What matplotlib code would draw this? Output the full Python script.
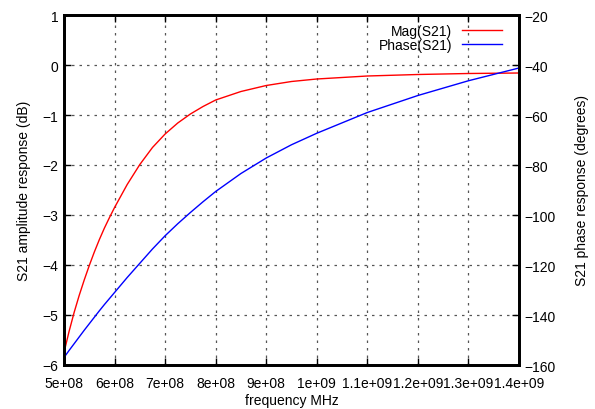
#!/usr/bin/env python3
"""S21 magnitude / phase response plot (gnuplot look)."""

import matplotlib
matplotlib.use('Agg')
import matplotlib.pyplot as plt
import numpy as np

plt.rcParams['font.family'] = ['Liberation Sans', 'DejaVu Sans']
plt.rcParams['font.size'] = 10

# Frequencies (Hz)
freq = [5.0e8, 5.1e8, 5.2e8, 5.3e8, 5.4e8, 5.5e8, 5.6e8, 5.7e8, 5.8e8, 5.9e8,
        6.0e8, 6.25e8, 6.5e8, 6.75e8, 7.0e8, 7.25e8, 7.5e8, 7.75e8, 8.0e8,
        8.5e8, 9.0e8, 9.5e8, 1.0e9, 1.1e9, 1.2e9, 1.3e9, 1.4e9]

# Magnitude of S21 (dB)
mag_db = [-5.75, -5.33, -4.95, -4.61, -4.30, -4.01, -3.74, -3.49, -3.26, -3.05,
          -2.85, -2.39, -1.99, -1.65, -1.38, -1.16, -0.98, -0.83, -0.70,
          -0.53, -0.41, -0.33, -0.28, -0.22, -0.19, -0.17, -0.16]

# Phase of S21 (degrees)
phase_deg = [-157.0, -154.2, -151.5, -148.8, -146.1, -143.5, -140.9, -138.3, -135.8, -133.4,
             -131.0, -125.0, -119.3, -113.6, -108.3, -103.5, -99.0, -94.7, -90.6,
             -83.4, -77.2, -71.9, -67.3, -59.0, -52.2, -46.3, -41.2]

xticks = [5e8, 6e8, 7e8, 8e8, 9e8, 1.0e9, 1.1e9, 1.2e9, 1.3e9, 1.4e9]
xtick_labels = ['5e+08', '6e+08', '7e+08', '8e+08', '9e+08',
                '1e+09', '1.1e+09', '1.2e+09', '1.3e+09', '1.4e+09']

fig = plt.figure(figsize=(5.95, 4.10), dpi=100)
ax = fig.add_axes([64 / 595, 1 - 366 / 410, (519 - 64) / 595, (366 - 16) / 410])
ax2 = ax.twinx()

l1, = ax.plot(freq, mag_db, color='#ff0000', linewidth=1.0, label='Mag(S21)')
l2, = ax2.plot(freq, phase_deg, color='#0000ff', linewidth=1.0, label='Phase(S21)')

ax.set_xlim(5e8, 1.4e9)
ax.set_ylim(-6, 1)
ax2.set_ylim(-160, -20)

ax.set_xticks(xticks)
ax.set_xticklabels(xtick_labels)
ax.set_yticks(np.arange(-6, 2, 1))
ax2.set_yticks(np.arange(-160, 0, 20))

ax.grid(True, color='#555555', linestyle=(0, (2, 4)), linewidth=0.9)

ax.tick_params(direction='in', length=5, width=1, top=True, right=False, pad=4)
ax.tick_params(axis='x', pad=8)
ax2.tick_params(direction='in', length=5, width=1, pad=4)

for a in (ax, ax2):
    for s in a.spines.values():
        s.set_linewidth(2)

ax.set_xlabel('frequency MHz', labelpad=2)
ax.set_ylabel('S21 amplitude response (dB)', labelpad=8)
ax2.set_ylabel('S21 phase response (degrees)', labelpad=14)

ax.legend(handles=[l1, l2], loc='upper right', bbox_to_anchor=(1 - 7 / 455, 1 + 1 / 350),
          frameon=False, markerfirst=False,
          handlelength=2.9, handletextpad=0.7, labelspacing=0.0,
          borderaxespad=0.3, fontsize=10)

plt.savefig('out.png', dpi=100)
